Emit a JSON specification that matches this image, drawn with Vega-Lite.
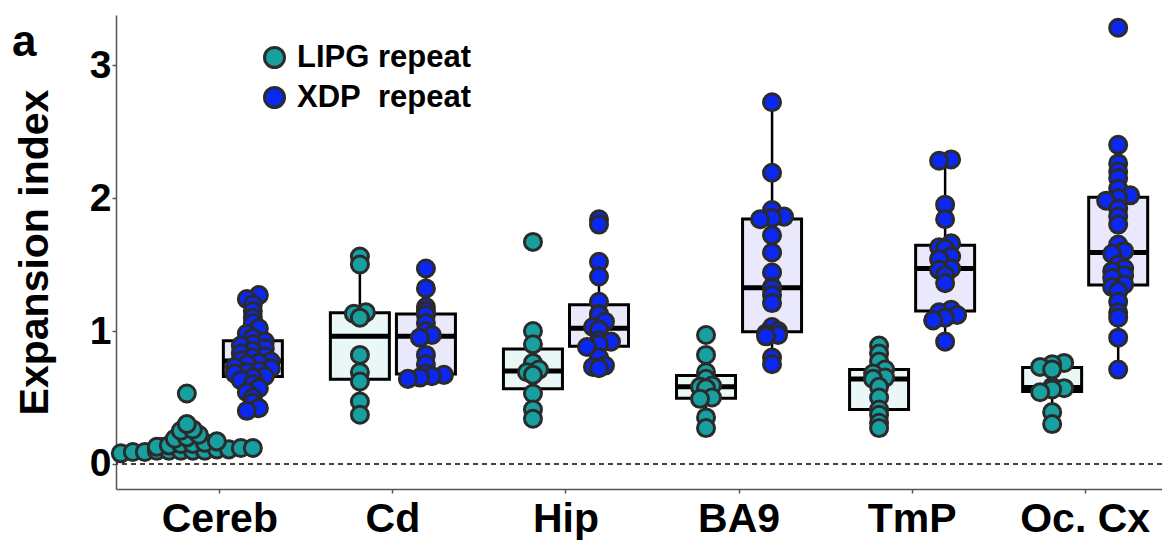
{
  "$schema": "https://vega.github.io/schema/vega-lite/v6.json",
  "width": 1046,
  "height": 474,
  "autosize": {"type": "none"},
  "padding": {"left": 116, "top": 15, "right": 0, "bottom": 51},
  "config": {
    "font": "Liberation Sans",
    "view": {"stroke": null},
    "axis": {"grid": false, "domainColor": "#555555", "domainWidth": 1.5, "tickColor": "#555555", "tickSize": 4, "tickWidth": 1.5, "labelColor": "black", "labelFontWeight": "bold", "titleColor": "black"}
  },
  "title": {"text": "a", "anchor": "start", "frame": "group", "fontSize": 44, "fontWeight": "bold", "color": "black", "offset": 0, "dx": -104, "dy": 87, "baseline": "alphabetic"},
  "data": {"values": [
    {"region": "Cereb", "repeat": "LIPG", "value": 0.08},
    {"region": "Cereb", "repeat": "LIPG", "value": 0.09},
    {"region": "Cereb", "repeat": "LIPG", "value": 0.09},
    {"region": "Cereb", "repeat": "LIPG", "value": 0.10},
    {"region": "Cereb", "repeat": "LIPG", "value": 0.10},
    {"region": "Cereb", "repeat": "LIPG", "value": 0.10},
    {"region": "Cereb", "repeat": "LIPG", "value": 0.10},
    {"region": "Cereb", "repeat": "LIPG", "value": 0.10},
    {"region": "Cereb", "repeat": "LIPG", "value": 0.11},
    {"region": "Cereb", "repeat": "LIPG", "value": 0.11},
    {"region": "Cereb", "repeat": "LIPG", "value": 0.12},
    {"region": "Cereb", "repeat": "LIPG", "value": 0.12},
    {"region": "Cereb", "repeat": "LIPG", "value": 0.13},
    {"region": "Cereb", "repeat": "LIPG", "value": 0.14},
    {"region": "Cereb", "repeat": "LIPG", "value": 0.15},
    {"region": "Cereb", "repeat": "LIPG", "value": 0.15},
    {"region": "Cereb", "repeat": "LIPG", "value": 0.16},
    {"region": "Cereb", "repeat": "LIPG", "value": 0.17},
    {"region": "Cereb", "repeat": "LIPG", "value": 0.19},
    {"region": "Cereb", "repeat": "LIPG", "value": 0.20},
    {"region": "Cereb", "repeat": "LIPG", "value": 0.22},
    {"region": "Cereb", "repeat": "LIPG", "value": 0.25},
    {"region": "Cereb", "repeat": "LIPG", "value": 0.26},
    {"region": "Cereb", "repeat": "LIPG", "value": 0.30},
    {"region": "Cereb", "repeat": "LIPG", "value": 0.53},
    {"region": "Cereb", "repeat": "XDP", "value": 1.27},
    {"region": "Cereb", "repeat": "XDP", "value": 1.24},
    {"region": "Cereb", "repeat": "XDP", "value": 1.20},
    {"region": "Cereb", "repeat": "XDP", "value": 1.15},
    {"region": "Cereb", "repeat": "XDP", "value": 1.10},
    {"region": "Cereb", "repeat": "XDP", "value": 1.06},
    {"region": "Cereb", "repeat": "XDP", "value": 1.02},
    {"region": "Cereb", "repeat": "XDP", "value": 0.98},
    {"region": "Cereb", "repeat": "XDP", "value": 0.95},
    {"region": "Cereb", "repeat": "XDP", "value": 0.92},
    {"region": "Cereb", "repeat": "XDP", "value": 0.90},
    {"region": "Cereb", "repeat": "XDP", "value": 0.89},
    {"region": "Cereb", "repeat": "XDP", "value": 0.87},
    {"region": "Cereb", "repeat": "XDP", "value": 0.85},
    {"region": "Cereb", "repeat": "XDP", "value": 0.83},
    {"region": "Cereb", "repeat": "XDP", "value": 0.81},
    {"region": "Cereb", "repeat": "XDP", "value": 0.80},
    {"region": "Cereb", "repeat": "XDP", "value": 0.78},
    {"region": "Cereb", "repeat": "XDP", "value": 0.77},
    {"region": "Cereb", "repeat": "XDP", "value": 0.76},
    {"region": "Cereb", "repeat": "XDP", "value": 0.75},
    {"region": "Cereb", "repeat": "XDP", "value": 0.73},
    {"region": "Cereb", "repeat": "XDP", "value": 0.72},
    {"region": "Cereb", "repeat": "XDP", "value": 0.70},
    {"region": "Cereb", "repeat": "XDP", "value": 0.69},
    {"region": "Cereb", "repeat": "XDP", "value": 0.68},
    {"region": "Cereb", "repeat": "XDP", "value": 0.66},
    {"region": "Cereb", "repeat": "XDP", "value": 0.65},
    {"region": "Cereb", "repeat": "XDP", "value": 0.63},
    {"region": "Cereb", "repeat": "XDP", "value": 0.60},
    {"region": "Cereb", "repeat": "XDP", "value": 0.57},
    {"region": "Cereb", "repeat": "XDP", "value": 0.54},
    {"region": "Cereb", "repeat": "XDP", "value": 0.50},
    {"region": "Cereb", "repeat": "XDP", "value": 0.46},
    {"region": "Cereb", "repeat": "XDP", "value": 0.42},
    {"region": "Cereb", "repeat": "XDP", "value": 0.40},
    {"region": "Cd", "repeat": "LIPG", "value": 1.56},
    {"region": "Cd", "repeat": "LIPG", "value": 1.50},
    {"region": "Cd", "repeat": "LIPG", "value": 1.14},
    {"region": "Cd", "repeat": "LIPG", "value": 1.13},
    {"region": "Cd", "repeat": "LIPG", "value": 1.10},
    {"region": "Cd", "repeat": "LIPG", "value": 0.82},
    {"region": "Cd", "repeat": "LIPG", "value": 0.69},
    {"region": "Cd", "repeat": "LIPG", "value": 0.62},
    {"region": "Cd", "repeat": "LIPG", "value": 0.47},
    {"region": "Cd", "repeat": "LIPG", "value": 0.37},
    {"region": "Cd", "repeat": "XDP", "value": 1.47},
    {"region": "Cd", "repeat": "XDP", "value": 1.32},
    {"region": "Cd", "repeat": "XDP", "value": 1.18},
    {"region": "Cd", "repeat": "XDP", "value": 1.15},
    {"region": "Cd", "repeat": "XDP", "value": 1.12},
    {"region": "Cd", "repeat": "XDP", "value": 1.06},
    {"region": "Cd", "repeat": "XDP", "value": 1.00},
    {"region": "Cd", "repeat": "XDP", "value": 0.97},
    {"region": "Cd", "repeat": "XDP", "value": 0.95},
    {"region": "Cd", "repeat": "XDP", "value": 0.82},
    {"region": "Cd", "repeat": "XDP", "value": 0.75},
    {"region": "Cd", "repeat": "XDP", "value": 0.68},
    {"region": "Cd", "repeat": "XDP", "value": 0.67},
    {"region": "Cd", "repeat": "XDP", "value": 0.66},
    {"region": "Cd", "repeat": "XDP", "value": 0.65},
    {"region": "Cd", "repeat": "XDP", "value": 0.64},
    {"region": "Hip", "repeat": "LIPG", "value": 1.67},
    {"region": "Hip", "repeat": "LIPG", "value": 1.00},
    {"region": "Hip", "repeat": "LIPG", "value": 0.90},
    {"region": "Hip", "repeat": "LIPG", "value": 0.76},
    {"region": "Hip", "repeat": "LIPG", "value": 0.71},
    {"region": "Hip", "repeat": "LIPG", "value": 0.69},
    {"region": "Hip", "repeat": "LIPG", "value": 0.67},
    {"region": "Hip", "repeat": "LIPG", "value": 0.53},
    {"region": "Hip", "repeat": "LIPG", "value": 0.41},
    {"region": "Hip", "repeat": "LIPG", "value": 0.34},
    {"region": "Hip", "repeat": "XDP", "value": 1.84},
    {"region": "Hip", "repeat": "XDP", "value": 1.80},
    {"region": "Hip", "repeat": "XDP", "value": 1.52},
    {"region": "Hip", "repeat": "XDP", "value": 1.41},
    {"region": "Hip", "repeat": "XDP", "value": 1.22},
    {"region": "Hip", "repeat": "XDP", "value": 1.13},
    {"region": "Hip", "repeat": "XDP", "value": 1.12},
    {"region": "Hip", "repeat": "XDP", "value": 1.07},
    {"region": "Hip", "repeat": "XDP", "value": 1.03},
    {"region": "Hip", "repeat": "XDP", "value": 1.01},
    {"region": "Hip", "repeat": "XDP", "value": 0.93},
    {"region": "Hip", "repeat": "XDP", "value": 0.92},
    {"region": "Hip", "repeat": "XDP", "value": 0.90},
    {"region": "Hip", "repeat": "XDP", "value": 0.88},
    {"region": "Hip", "repeat": "XDP", "value": 0.80},
    {"region": "Hip", "repeat": "XDP", "value": 0.74},
    {"region": "Hip", "repeat": "XDP", "value": 0.73},
    {"region": "Hip", "repeat": "XDP", "value": 0.72},
    {"region": "BA9", "repeat": "LIPG", "value": 0.97},
    {"region": "BA9", "repeat": "LIPG", "value": 0.82},
    {"region": "BA9", "repeat": "LIPG", "value": 0.69},
    {"region": "BA9", "repeat": "LIPG", "value": 0.64},
    {"region": "BA9", "repeat": "LIPG", "value": 0.59},
    {"region": "BA9", "repeat": "LIPG", "value": 0.58},
    {"region": "BA9", "repeat": "LIPG", "value": 0.57},
    {"region": "BA9", "repeat": "LIPG", "value": 0.50},
    {"region": "BA9", "repeat": "LIPG", "value": 0.49},
    {"region": "BA9", "repeat": "LIPG", "value": 0.35},
    {"region": "BA9", "repeat": "LIPG", "value": 0.27},
    {"region": "BA9", "repeat": "XDP", "value": 2.72},
    {"region": "BA9", "repeat": "XDP", "value": 2.19},
    {"region": "BA9", "repeat": "XDP", "value": 1.91},
    {"region": "BA9", "repeat": "XDP", "value": 1.86},
    {"region": "BA9", "repeat": "XDP", "value": 1.85},
    {"region": "BA9", "repeat": "XDP", "value": 1.84},
    {"region": "BA9", "repeat": "XDP", "value": 1.72},
    {"region": "BA9", "repeat": "XDP", "value": 1.59},
    {"region": "BA9", "repeat": "XDP", "value": 1.44},
    {"region": "BA9", "repeat": "XDP", "value": 1.33},
    {"region": "BA9", "repeat": "XDP", "value": 1.32},
    {"region": "BA9", "repeat": "XDP", "value": 1.27},
    {"region": "BA9", "repeat": "XDP", "value": 1.21},
    {"region": "BA9", "repeat": "XDP", "value": 1.03},
    {"region": "BA9", "repeat": "XDP", "value": 1.00},
    {"region": "BA9", "repeat": "XDP", "value": 0.98},
    {"region": "BA9", "repeat": "XDP", "value": 0.97},
    {"region": "BA9", "repeat": "XDP", "value": 0.96},
    {"region": "BA9", "repeat": "XDP", "value": 0.80},
    {"region": "BA9", "repeat": "XDP", "value": 0.75},
    {"region": "TmP", "repeat": "LIPG", "value": 0.89},
    {"region": "TmP", "repeat": "LIPG", "value": 0.83},
    {"region": "TmP", "repeat": "LIPG", "value": 0.77},
    {"region": "TmP", "repeat": "LIPG", "value": 0.71},
    {"region": "TmP", "repeat": "LIPG", "value": 0.68},
    {"region": "TmP", "repeat": "LIPG", "value": 0.65},
    {"region": "TmP", "repeat": "LIPG", "value": 0.64},
    {"region": "TmP", "repeat": "LIPG", "value": 0.58},
    {"region": "TmP", "repeat": "LIPG", "value": 0.50},
    {"region": "TmP", "repeat": "LIPG", "value": 0.41},
    {"region": "TmP", "repeat": "LIPG", "value": 0.37},
    {"region": "TmP", "repeat": "LIPG", "value": 0.31},
    {"region": "TmP", "repeat": "LIPG", "value": 0.27},
    {"region": "TmP", "repeat": "XDP", "value": 2.29},
    {"region": "TmP", "repeat": "XDP", "value": 2.28},
    {"region": "TmP", "repeat": "XDP", "value": 1.95},
    {"region": "TmP", "repeat": "XDP", "value": 1.84},
    {"region": "TmP", "repeat": "XDP", "value": 1.66},
    {"region": "TmP", "repeat": "XDP", "value": 1.63},
    {"region": "TmP", "repeat": "XDP", "value": 1.62},
    {"region": "TmP", "repeat": "XDP", "value": 1.56},
    {"region": "TmP", "repeat": "XDP", "value": 1.54},
    {"region": "TmP", "repeat": "XDP", "value": 1.47},
    {"region": "TmP", "repeat": "XDP", "value": 1.46},
    {"region": "TmP", "repeat": "XDP", "value": 1.42},
    {"region": "TmP", "repeat": "XDP", "value": 1.36},
    {"region": "TmP", "repeat": "XDP", "value": 1.16},
    {"region": "TmP", "repeat": "XDP", "value": 1.14},
    {"region": "TmP", "repeat": "XDP", "value": 1.12},
    {"region": "TmP", "repeat": "XDP", "value": 1.10},
    {"region": "TmP", "repeat": "XDP", "value": 1.08},
    {"region": "TmP", "repeat": "XDP", "value": 0.92},
    {"region": "Oc. Cx", "repeat": "LIPG", "value": 0.76},
    {"region": "Oc. Cx", "repeat": "LIPG", "value": 0.75},
    {"region": "Oc. Cx", "repeat": "LIPG", "value": 0.73},
    {"region": "Oc. Cx", "repeat": "LIPG", "value": 0.71},
    {"region": "Oc. Cx", "repeat": "LIPG", "value": 0.58},
    {"region": "Oc. Cx", "repeat": "LIPG", "value": 0.57},
    {"region": "Oc. Cx", "repeat": "LIPG", "value": 0.56},
    {"region": "Oc. Cx", "repeat": "LIPG", "value": 0.54},
    {"region": "Oc. Cx", "repeat": "LIPG", "value": 0.39},
    {"region": "Oc. Cx", "repeat": "LIPG", "value": 0.30},
    {"region": "Oc. Cx", "repeat": "XDP", "value": 3.28},
    {"region": "Oc. Cx", "repeat": "XDP", "value": 2.40},
    {"region": "Oc. Cx", "repeat": "XDP", "value": 2.26},
    {"region": "Oc. Cx", "repeat": "XDP", "value": 2.20},
    {"region": "Oc. Cx", "repeat": "XDP", "value": 2.15},
    {"region": "Oc. Cx", "repeat": "XDP", "value": 2.07},
    {"region": "Oc. Cx", "repeat": "XDP", "value": 2.02},
    {"region": "Oc. Cx", "repeat": "XDP", "value": 2.00},
    {"region": "Oc. Cx", "repeat": "XDP", "value": 1.98},
    {"region": "Oc. Cx", "repeat": "XDP", "value": 1.92},
    {"region": "Oc. Cx", "repeat": "XDP", "value": 1.86},
    {"region": "Oc. Cx", "repeat": "XDP", "value": 1.80},
    {"region": "Oc. Cx", "repeat": "XDP", "value": 1.65},
    {"region": "Oc. Cx", "repeat": "XDP", "value": 1.60},
    {"region": "Oc. Cx", "repeat": "XDP", "value": 1.58},
    {"region": "Oc. Cx", "repeat": "XDP", "value": 1.50},
    {"region": "Oc. Cx", "repeat": "XDP", "value": 1.47},
    {"region": "Oc. Cx", "repeat": "XDP", "value": 1.45},
    {"region": "Oc. Cx", "repeat": "XDP", "value": 1.42},
    {"region": "Oc. Cx", "repeat": "XDP", "value": 1.40},
    {"region": "Oc. Cx", "repeat": "XDP", "value": 1.35},
    {"region": "Oc. Cx", "repeat": "XDP", "value": 1.33},
    {"region": "Oc. Cx", "repeat": "XDP", "value": 1.30},
    {"region": "Oc. Cx", "repeat": "XDP", "value": 1.22},
    {"region": "Oc. Cx", "repeat": "XDP", "value": 1.14},
    {"region": "Oc. Cx", "repeat": "XDP", "value": 1.10},
    {"region": "Oc. Cx", "repeat": "XDP", "value": 0.95},
    {"region": "Oc. Cx", "repeat": "XDP", "value": 0.71}
  ]},
  "layer": [
    {
      "mark": {"type": "rule", "strokeDash": [5, 4], "color": "#444444", "strokeWidth": 1.3},
      "encoding": {
        "y": {"datum": 0, "type": "quantitative", "scale": {"domain": [-0.188, 3.376], "nice": false, "zero": false},
              "axis": {"values": [0, 1, 2, 3], "title": "Expansion index", "titleFontSize": 41, "titleFontWeight": "bold", "titlePadding": 33, "labelFontSize": 39, "labelPadding": 1}}
      }
    },
    {
      "transform": [{"filter": "datum.repeat == 'LIPG'"}],
      "mark": {"type": "boxplot", "size": 59, "extent": 1.5, "outliers": false,
               "box": {"color": "#e9f7f7", "stroke": "black", "strokeWidth": 3},
               "median": {"color": "black", "thickness": 5, "opacity": 1},
               "rule": {"color": "black", "strokeWidth": 2.5}},
      "encoding": {
        "x": {"field": "region", "type": "nominal", "sort": ["Cereb", "Cd", "Hip", "BA9", "TmP", "Oc. Cx"],
              "scale": {"domain": ["Cereb", "Cd", "Hip", "BA9", "TmP", "Oc. Cx"], "paddingInner": 0, "paddingOuter": 0.1, "range": [0, 1073]},
              "axis": {"title": null, "labelAngle": 0, "labelFontSize": 41, "labelPadding": 6}},
        "xOffset": {"field": "repeat", "type": "nominal", "scale": {"domain": ["LIPG", "XDP"], "paddingInner": 0.1, "paddingOuter": 0.36}},
        "y": {"field": "value", "type": "quantitative", "scale": {"domain": [-0.188, 3.376], "nice": false, "zero": false},
              "axis": {"values": [0, 1, 2, 3], "title": "Expansion index", "titleFontSize": 41, "titleFontWeight": "bold", "titlePadding": 33, "labelFontSize": 39, "labelPadding": 1}}
      }
    },
    {
      "transform": [{"filter": "datum.repeat == 'XDP'"}],
      "mark": {"type": "boxplot", "size": 59, "extent": 1.5, "outliers": false,
               "box": {"color": "#e9e9fb", "stroke": "black", "strokeWidth": 3},
               "median": {"color": "black", "thickness": 5, "opacity": 1},
               "rule": {"color": "black", "strokeWidth": 2.5}},
      "encoding": {
        "x": {"field": "region", "type": "nominal", "sort": ["Cereb", "Cd", "Hip", "BA9", "TmP", "Oc. Cx"],
              "scale": {"domain": ["Cereb", "Cd", "Hip", "BA9", "TmP", "Oc. Cx"], "paddingInner": 0, "paddingOuter": 0.1, "range": [0, 1073]},
              "axis": {"title": null, "labelAngle": 0, "labelFontSize": 41, "labelPadding": 6}},
        "xOffset": {"field": "repeat", "type": "nominal", "scale": {"domain": ["LIPG", "XDP"], "paddingInner": 0.1, "paddingOuter": 0.36}},
        "y": {"field": "value", "type": "quantitative", "scale": {"domain": [-0.188, 3.376], "nice": false, "zero": false},
              "axis": {"values": [0, 1, 2, 3], "title": "Expansion index", "titleFontSize": 41, "titleFontWeight": "bold", "titlePadding": 33, "labelFontSize": 39, "labelPadding": 1}}
      }
    },
    {
      "transform": [
        {"bin": {"step": 0.05, "anchor": 0.025}, "field": "value", "as": "vb"},
        {"joinaggregate": [{"op": "count", "as": "cnt"}], "groupby": ["region", "repeat", "vb"]},
        {"window": [{"op": "row_number", "as": "rk"}], "groupby": ["region", "repeat", "vb"], "sort": [{"field": "value"}]},
        {"calculate": "(datum.repeat == 'XDP' ? 33 : -33) + (datum.rk - (datum.cnt + 1) / 2) * 12", "as": "off"}
      ],
      "mark": {"type": "circle", "size": 290, "stroke": "#2b2b2b", "strokeWidth": 3, "opacity": 1},
      "encoding": {
        "x": {"field": "region", "type": "nominal", "sort": ["Cereb", "Cd", "Hip", "BA9", "TmP", "Oc. Cx"],
              "scale": {"domain": ["Cereb", "Cd", "Hip", "BA9", "TmP", "Oc. Cx"], "paddingInner": 0, "paddingOuter": 0.1, "range": [0, 1073]},
              "axis": {"title": null, "labelAngle": 0, "labelFontSize": 41, "labelPadding": 6}},
        "xOffset": {"field": "off", "type": "quantitative", "scale": {"domain": [-86.5, 86.5], "nice": false, "zero": false}},
        "y": {"field": "value", "type": "quantitative", "scale": {"domain": [-0.188, 3.376], "nice": false, "zero": false},
              "axis": {"values": [0, 1, 2, 3], "title": "Expansion index", "titleFontSize": 41, "titleFontWeight": "bold", "titlePadding": 33, "labelFontSize": 39, "labelPadding": 1}},
        "fill": {"field": "repeat", "type": "nominal", "scale": {"domain": ["LIPG", "XDP"], "range": ["#17a09f", "#0b28f2"]},
                 "legend": {"title": null, "orient": "none", "legendX": 143, "legendY": 27, "padding": 0,
                            "labelFontSize": 31, "labelFontWeight": "bold", "labelColor": "black", "labelOffset": 7, "labelLimit": 400,
                            "symbolType": "circle", "symbolSize": 400, "symbolStrokeColor": "#2b2b2b", "symbolStrokeWidth": 3, "symbolOpacity": 1,
                            "rowPadding": 7,
                            "labelExpr": "datum.label == 'XDP' ? 'XDP\u00a0\u00a0repeat' : 'LIPG repeat'"}}
      }
    }
  ],
  "resolve": {"scale": {"xOffset": "independent"}}
}
